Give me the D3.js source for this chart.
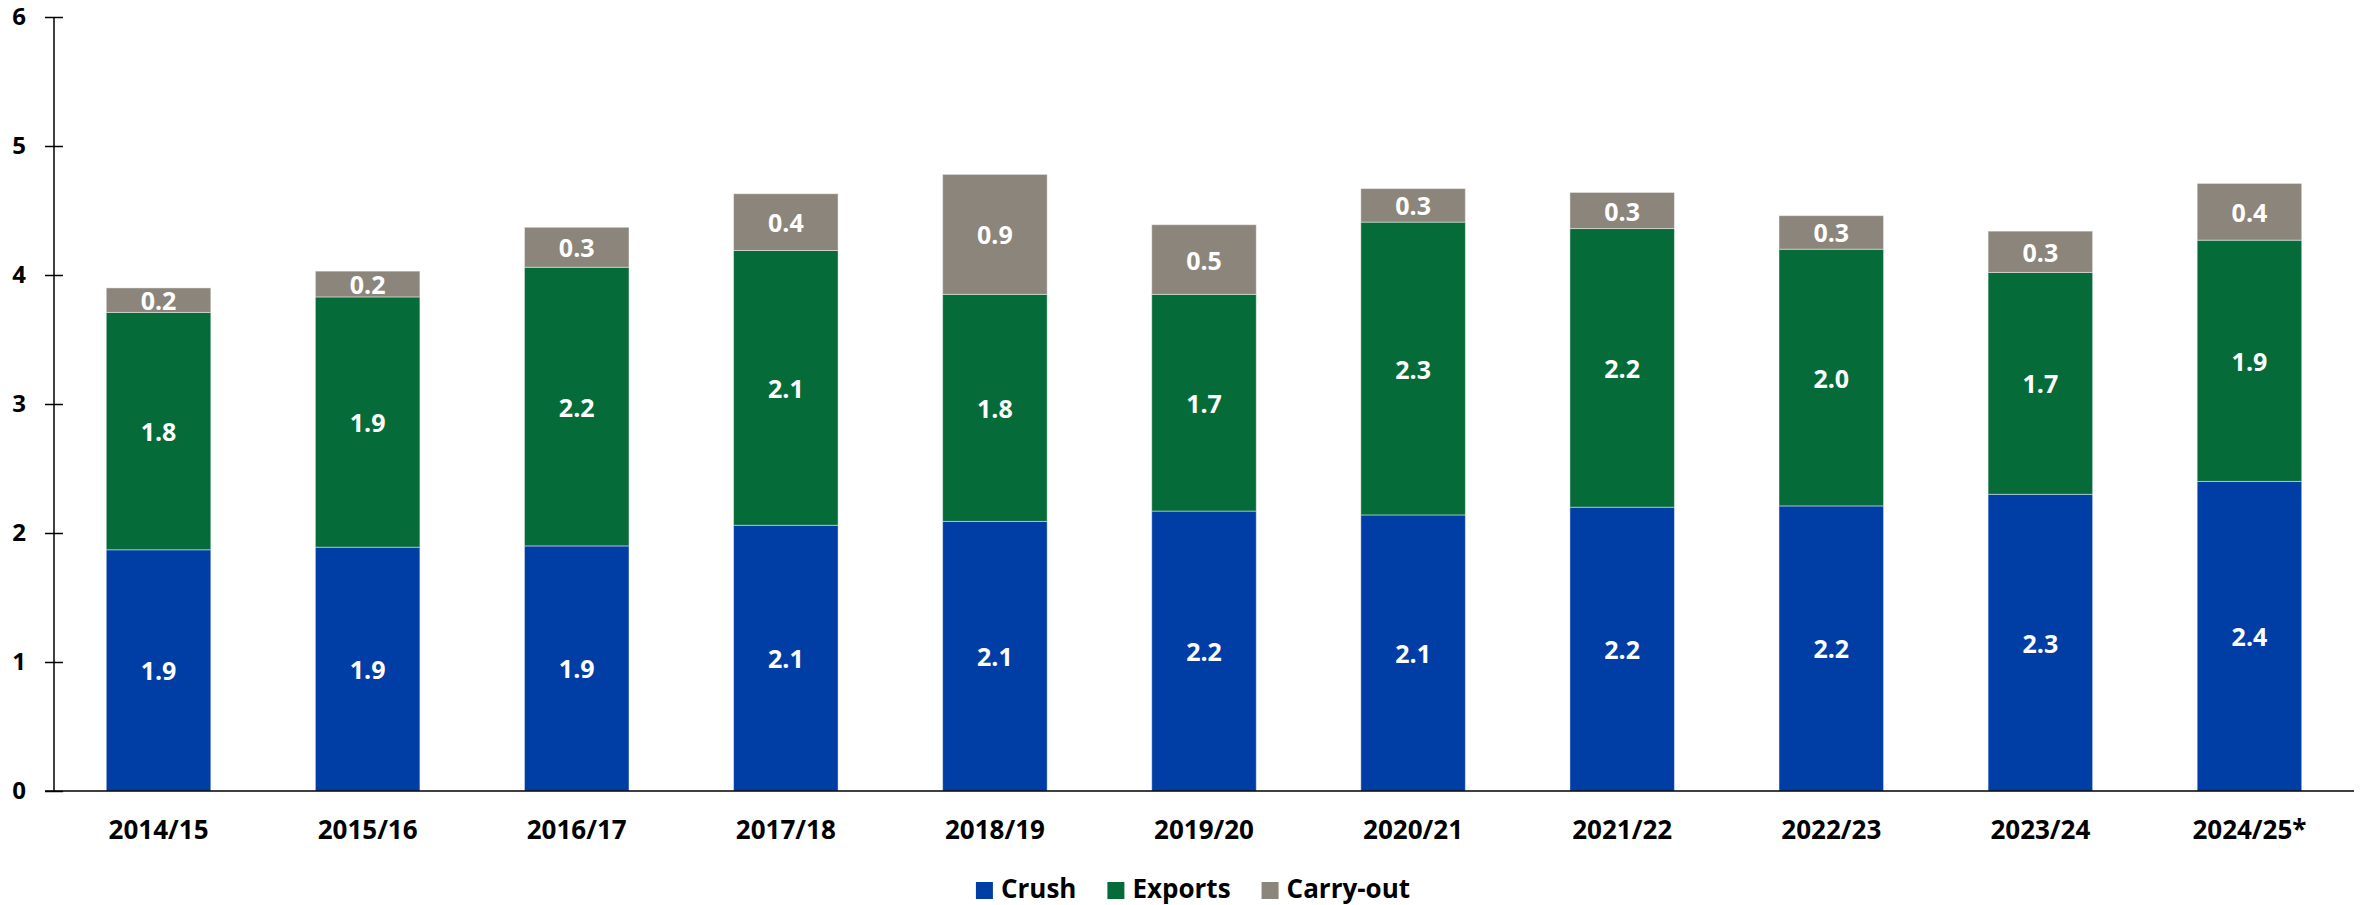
<!DOCTYPE html>
<html lang="en">
<head>
<meta charset="utf-8">
<title>Soybean use</title>
<script src="https://cdn.jsdelivr.net/npm/d3@7"></script>
<style>
  body { margin: 0; background: #fff; }
  text { font-family: "Open Sans", "Noto Sans", sans-serif; font-weight: 700; }
  .axis path, .axis line { stroke: #000; stroke-width: 1.5px; }
  .axis text { fill: #000; }
  .val { fill: #fff; }
</style>
</head>
<body>
<div id="chart"></div>
<script>
// marketing years
var years = ["2014/15", "2015/16", "2016/17", "2017/18", "2018/19", "2019/20",
             "2020/21", "2021/22", "2022/23", "2023/24", "2024/25*"];

// series values (billion bushels)
var crush    = [1.87, 1.89, 1.90, 2.06, 2.09, 2.17, 2.14, 2.20, 2.21, 2.30, 2.40];
var exports  = [1.84, 1.94, 2.16, 2.13, 1.76, 1.68, 2.27, 2.16, 1.99, 1.72, 1.87];
var carryout = [0.19, 0.20, 0.31, 0.44, 0.93, 0.54, 0.26, 0.28, 0.26, 0.32, 0.44];

var yTicks = [0, 1, 2, 3, 4, 5, 6];

var seriesNames = ["Crush", "Exports", "Carry-out"];
var seriesColors = ["#003da5", "#056b39", "#8c857b"];

var W = 2366, H = 905;
var margin = {top: 17, right: 12, bottom: 114, left: 54};
var width = W - margin.left - margin.right,
    height = H - margin.top - margin.bottom;

var svg = d3.select("#chart").append("svg")
    .attr("width", W)
    .attr("height", H);

var g = svg.append("g")
    .attr("transform", "translate(" + margin.left + "," + margin.top + ")");

// build table for stack
var table = years.map(function(y, i) {
  return {year: y, Crush: crush[i], Exports: exports[i], "Carry-out": carryout[i]};
});
var stacked = d3.stack().keys(seriesNames)(table);

var x = d3.scaleBand()
    .domain(years)
    .range([0, width])
    .paddingInner(0.5)
    .paddingOuter(0.25);

var y = d3.scaleLinear()
    .domain([0, 6])
    .range([height, 0]);

var fmt = d3.format(".1f");

// bars
var layers = g.selectAll("g.layer")
  .data(stacked)
  .enter().append("g")
  .attr("class", "layer")
  .attr("fill", function(d, i) { return seriesColors[i]; });

layers.selectAll("rect")
  .data(function(d) { return d; })
  .enter().append("rect")
  .attr("x", function(d) { return x(d.data.year); })
  .attr("y", function(d) { return y(d[1]); })
  .attr("width", x.bandwidth())
  .attr("height", function(d) { return y(d[0]) - y(d[1]); })
  .attr("stroke", "rgba(255,255,255,0.45)")
  .attr("stroke-width", 1);

// value labels (segment value from the series arrays)
layers.selectAll("text")
  .data(function(d) { return d; })
  .enter().append("text")
  .attr("class", "val")
  .attr("x", function(d) { return x(d.data.year) + x.bandwidth() / 2; })
  .attr("y", function(d) { return (y(d[0]) + y(d[1])) / 2; })
  .attr("text-anchor", "middle")
  .attr("dominant-baseline", "central")
  .style("font-size", "25px")
  .text(function(d) {
    var key = d3.select(this.parentNode).datum().key;
    return fmt(d.data[key]);
  });

// y axis, ticks crossing the line
var yAxis = g.append("g")
  .attr("class", "axis")
  .call(d3.axisLeft(y).tickValues(yTicks).tickSize(9).tickPadding(19).tickFormat(d3.format("d")));
yAxis.select(".domain").attr("d", "M0," + y(6) + "V" + y(0));
yAxis.selectAll(".tick line").attr("x1", 9);
yAxis.selectAll(".tick text").style("font-size", "24px");

// x axis
var xAxis = g.append("g")
  .attr("class", "axis")
  .attr("transform", "translate(0," + height + ")")
  .call(d3.axisBottom(x).tickSize(0).tickPadding(30));
xAxis.select(".domain").attr("d", "M-9,0H" + width);
xAxis.selectAll(".tick text").style("font-size", "26px");

// legend
var legend = svg.append("g");
var lx = 0;
var items = legend.selectAll("g")
  .data(seriesNames)
  .enter().append("g");
items.append("rect")
  .attr("y", -17)
  .attr("width", 17)
  .attr("height", 17)
  .attr("fill", function(d, i) { return seriesColors[i]; });
items.append("text")
  .attr("x", 25)
  .attr("y", -1)
  .style("font-size", "26px")
  .text(function(d) { return d; });
items.each(function() {
  var w = d3.select(this).select("text").node().getComputedTextLength();
  d3.select(this).attr("transform", "translate(" + lx + ",0)");
  lx += 25 + w + 31;
});
lx -= 31;
legend.attr("transform", "translate(" + (1193 - lx / 2) + ",899)");
</script>
</body>
</html>
